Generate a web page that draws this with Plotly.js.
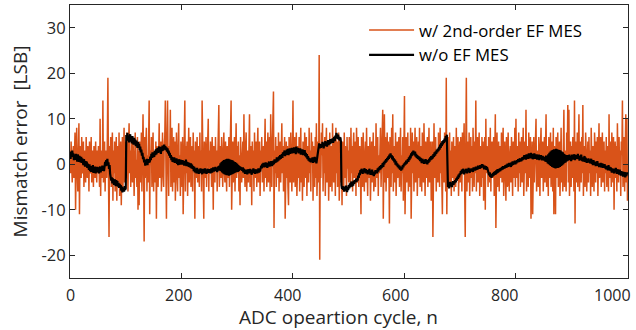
<!DOCTYPE html>
<html>
<head>
<meta charset="utf-8">
<script src="https://cdn.plot.ly/plotly-3.0.1.min.js"></script>
<style>html,body{margin:0;padding:0;background:#fff;}#chart{width:636px;height:330px;}</style>
</head>
<body>
<div id="chart"></div>
<script>
// Series names
const seriesNames = ["w/ 2nd-order EF MES", "w/o EF MES"];
// Axis ticks
const xTicks = [0, 200, 400, 600, 800, 1000];
const yTicks = [-20, -10, 0, 10, 20, 30];
const xTitle = "ADC opeartion cycle, n";
const yTitle = "Mismatch error  [LSB]";

// Mismatch error with 2nd-order EF MES (one value per ADC cycle, n = 0..1000)
const orangeVals = [
3,-2,5,1,-4,2,4,-3,0,7,-10,3,8,-1,-6,2,9,-11,4,1,-3,6,-2,0,5,-5,2,3,-4,6,-1,-3,4,2,-6,5,0,-2,6,-4,1,3,-5,4,2,-3,5,-1,-4,3,
-2,4,1,-5,10,-7,3,0,-3,14,-4,2,5,-6,3,1,-3,6,19,-2,-16,4,-1,6,-5,2,7,-8,3,-2,5,-6,1,6,-8,4,0,-4,7,-7,2,5,-9,3,6,-5,1,8,-4,2,
5,-3,7,2,-6,4,9,-2,3,-5,6,0,-4,5,2,-7,4,7,-3,1,-5,6,-10,3,-9,5,2,-4,7,-6,3,11,0,-17,6,-3,4,8,-6,2,-4,5,14,-11,3,0,6,-5,2,7,
-6,3,1,-4,5,-12,4,2,-5,6,9,-3,1,5,-6,3,7,-2,-5,4,6,14,-4,-12,5,14,0,-7,4,2,12,-5,3,8,-6,1,6,-4,5,-8,3,7,-2,-6,4,9,-3,2,-7,5,
1,-5,6,-11,3,2,14,-6,4,-2,5,-7,3,8,-4,1,6,-5,2,4,-6,7,0,3,-12,5,2,-3,6,-4,4,1,-5,7,-2,3,-6,14,2,-4,-12,5,3,-3,6,-5,1,4,10,-6,
3,-2,5,0,-5,6,2,-10,4,1,-4,6,-1,3,-6,5,2,13,-5,1,4,-3,6,0,-5,3,7,-2,-4,5,1,-6,4,3,-3,6,-5,2,0,14,-10,3,5,-4,2,6,-6,1,9,-3,
4,-2,5,-6,2,-9,6,1,-4,3,5,-3,11,0,-5,4,7,-6,2,3,-4,6,11,-5,2,4,-9,5,-2,3,-6,7,1,-3,5,-5,3,8,-4,2,5,-7,3,0,6,-4,2,4,-6,3,
10,-3,5,-5,2,7,-4,1,6,-6,11,2,-5,4,8,16,-14,3,-2,6,-5,4,1,-3,7,-6,2,5,-4,3,9,-2,4,-6,3,6,-12,2,5,-3,4,-5,-9,6,1,-4,7,2,-6,3,
14,-4,2,6,-5,3,7,-7,1,4,-3,6,-6,2,8,-4,3,-8,5,1,-5,7,2,-3,6,-7,4,1,-4,8,-2,3,-6,7,0,5,-8,4,2,-5,6,-3,9,-7,3,5,-4,24,-21,4,
-3,7,2,9,-6,4,-2,6,-7,3,8,-4,1,5,-8,3,7,-5,2,4,-6,9,0,-4,6,3,-7,8,-2,5,-5,4,7,-8,2,6,-4,3,-9,5,1,-6,7,-3,4,2,-7,6,-1,3,
-4,6,2,-5,8,-2,4,-6,3,7,-3,1,5,-7,8,2,-4,6,-5,3,4,-2,-11,6,1,-5,7,3,-6,2,5,-4,8,-1,-7,4,2,-3,6,-8,3,5,-4,1,7,-6,2,4,-5,9,
-3,4,6,-7,2,-2,5,8,-5,1,4,12,-12,3,11,-4,6,-6,2,7,-3,5,1,-13,6,3,-5,8,-2,11,-6,4,2,-4,7,-7,3,5,-3,1,6,-5,3,8,-6,2,-2,6,-8,4,
15,-11,3,6,-4,2,7,-6,4,1,-5,8,-12,3,7,-2,5,-6,2,8,-4,3,6,-7,1,5,-3,8,-5,2,4,-6,7,0,-4,9,2,-7,5,3,-3,6,-5,2,8,-4,1,5,-8,3,
5,-16,4,9,-3,2,6,-6,3,1,-4,7,2,-5,8,-2,4,-7,-11,5,3,-4,7,1,-6,19,-11,4,6,-5,2,7,-4,3,-7,5,1,-3,6,-6,4,2,-5,8,-3,1,6,-7,3,5,
-4,6,2,-6,7,-2,3,9,-5,-16,4,19,-6,3,5,-4,7,-7,1,6,-3,4,-6,8,2,-5,5,-2,14,-6,3,6,-4,1,7,-7,4,2,-5,6,-3,5,-8,3,6,-10,10,-2,4,1,
-5,6,2,-4,8,-6,3,5,-3,1,6,-7,4,11,-14,3,7,-5,2,5,-6,4,1,-3,7,-4,2,8,-7,3,5,-2,-8,6,1,-5,7,3,-6,2,4,-4,6,0,-7,5,2,-3,8,-5,
10,-3,4,1,-6,7,-2,5,-5,3,6,-4,2,8,-7,3,5,-2,12,-6,4,1,-5,7,-3,2,6,-12,3,5,-11,4,6,-4,2,7,10,-6,3,1,-5,6,2,-7,4,8,-3,1,5,-6,
3,6,-4,2,11,-5,4,1,-7,6,2,-3,7,-5,3,5,-6,8,-11,4,2,-11,6,-3,4,7,-5,1,5,-7,3,8,-4,2,-6,6,12,-5,3,1,-6,7,2,13,-4,12,-7,3,5,-5,
4,-3,6,2,-6,14,-13,5,1,-4,7,-5,3,11,-6,2,5,-4,6,-2,13,-7,4,1,-5,7,3,-6,2,5,-4,6,-2,3,-7,8,1,-5,4,2,-6,7,3,-4,5,-2,6,-7,2,9,
-3,4,6,-5,2,7,-4,1,5,-6,3,-2,6,-5,4,2,-6,11,-3,5,1,-5,7,3,-4,6,-10,2,5,-3,4,-6,9,1,-4,6,-2,3,-7,5,2,14,-5,3,6,-6,4,11,-4,10,
-8
];

// Mismatch error without EF MES (one value per ADC cycle, n = 0..1000)
const blackVals = [
2.8,1.2,2.5,1.6,3.0,1.9,2.4,0.9,2.2,1.5,1.0,2.3,1.4,0.6,2.1,1.7,0.5,1.8,1.2,0.4,1.6,0.3,1.3,0.8,-0.2,1.1,0.2,-0.5,0.7,-0.3,0.6,-0.8,0.1,-0.6,-1.2,0.0,-1.5,-0.4,-1.7,-0.7,-1.4,-0.2,-1.9,-0.8,-1.6,-0.5,-2.0,-1.0,-1.8,-0.6,
-1.6,-0.7,-2.0,-1.1,-0.5,-1.8,-0.9,-1.4,-0.3,-1.2,-0.6,-1.5,-0.2,0.5,-0.4,0.9,0.1,1.2,-0.3,0.4,-1.0,-0.2,-2.1,-2.8,-3.6,-2.9,-4.2,-3.1,-3.8,-4.5,-3.3,-4.0,-4.8,-3.5,-4.4,-3.7,-4.9,-4.1,-5.2,-4.3,-5.0,-4.6,-5.8,-4.9,-6.2,-5.1,-5.7,-6.0,-4.8,-5.6,
-5.3,6.4,5.2,6.9,5.5,6.1,4.8,5.9,6.6,5.0,5.7,4.6,6.2,5.1,4.3,5.8,4.9,5.4,4.0,5.2,4.4,3.6,4.9,3.8,4.5,3.1,3.9,2.6,3.2,1.9,2.5,1.1,1.6,0.4,1.0,-0.3,0.8,0.1,1.2,-0.2,0.9,0.3,1.1,0.4,1.7,0.9,2.3,1.4,2.6,1.5,
2.4,1.6,2.9,2.0,3.3,2.2,2.8,3.6,2.5,3.1,3.9,2.6,3.4,2.3,3.8,2.9,4.1,3.0,3.6,4.3,3.2,4.0,3.1,3.7,2.8,3.5,2.4,3.0,1.9,2.5,1.4,2.0,0.9,1.6,0.5,1.2,0.7,1.5,0.3,1.0,0.4,1.3,0.1,0.9,-0.2,1.1,0.6,-0.1,1.0,0.2,
0.8,-0.1,0.9,0.2,0.6,-0.3,0.7,0.1,1.0,-0.4,0.5,-0.2,0.4,-0.6,0.3,0.0,-0.7,0.2,-0.9,-0.1,-1.0,-0.4,-1.5,-0.6,-1.8,-0.9,-1.3,-2.0,-0.8,-1.6,-1.1,-2.1,-1.2,-1.7,-0.9,-1.9,-1.4,-2.2,-1.0,-1.8,-1.3,-2.0,-0.9,-1.6,-1.2,-2.1,-1.5,-1.0,-1.9,-1.3,
-1.7,-1.1,-2.0,-1.4,-0.9,-1.8,-1.2,-0.7,-1.6,-1.0,-1.5,-0.6,-1.3,-0.8,-1.7,-1.1,-0.5,-1.4,-0.3,-1.2,0.2,-1.5,0.5,-1.8,0.7,-2.0,0.9,-2.2,1.0,-2.3,1.1,-2.4,1.2,-2.4,1.2,-2.5,1.1,-2.4,1.0,-2.3,0.9,-2.2,0.8,-2.1,0.6,-1.9,0.5,-1.8,0.3,-1.6,
0.1,-1.7,-0.2,-1.5,-0.4,-1.3,-0.6,-1.1,-0.9,-1.4,-0.7,-1.8,-1.0,-1.6,-2.1,-1.2,-1.9,-1.4,-2.2,-1.1,-1.7,-1.3,-2.0,-1.0,-1.8,-1.5,-2.3,-1.2,-1.6,-0.9,-1.9,-1.4,-2.1,-1.1,-1.7,-1.3,-2.0,-1.5,-0.9,-1.8,-1.2,-1.6,-0.8,-0.3,-0.9,0.1,-0.5,0.3,-0.7,0.2,
-0.4,0.4,-0.6,0.1,-0.8,0.3,-0.3,0.6,-0.5,0.2,-0.1,0.7,-0.4,0.5,-0.2,0.8,0.0,1.1,0.3,0.9,0.4,1.5,0.6,1.3,0.8,1.7,1.0,2.0,1.2,1.6,2.2,1.4,2.6,1.9,2.3,3.0,1.8,2.7,2.1,3.2,2.4,3.4,2.0,2.9,3.5,2.3,3.1,2.6,3.6,2.4,
3.3,2.5,3.7,2.8,3.4,2.2,3.9,2.7,3.1,3.6,2.4,3.2,2.8,3.5,2.1,3.0,2.6,3.3,2.0,2.9,2.3,3.1,1.8,2.5,1.5,2.2,1.1,1.8,0.8,1.4,0.6,1.3,0.4,1.1,0.7,1.5,0.3,1.2,0.5,1.6,0.8,1.4,0.2,1.0,1.9,3.2,3.9,4.6,3.5,4.3,
3.6,4.4,3.8,4.9,4.1,3.5,4.7,4.0,5.1,4.3,4.8,3.9,4.6,5.3,4.2,5.0,4.4,5.5,4.6,5.2,4.9,5.7,4.7,5.4,6.0,5.1,6.3,5.8,6.9,6.2,5.6,6.5,5.4,6.0,5.2,5.9,5.0,-4.6,-5.4,-4.8,-5.6,-4.9,-6.0,-5.2,-5.8,-4.7,-5.5,-6.1,-5.0,-5.7,
-4.6,-5.3,-4.2,-5.0,-4.4,-3.8,-4.9,-4.1,-4.7,-3.6,-4.3,-3.5,-4.0,-3.2,-3.9,-3.1,-3.6,-2.5,-3.0,-1.9,-2.4,-1.3,-1.8,-1.0,-1.6,-2.1,-1.2,-1.7,-0.9,-1.5,-2.0,-1.1,-1.8,-1.3,-2.2,-1.4,-1.9,-1.0,-1.7,-2.3,-1.5,-2.0,-1.2,-2.4,-1.8,-2.6,-1.6,-2.2,-1.3,-1.9,
-1.4,-2.0,-0.9,-1.6,-0.7,-1.3,-0.4,-1.1,-0.2,-0.8,-0.3,0.2,-0.6,0.5,0.0,0.8,0.3,1.1,0.6,1.4,0.9,1.7,1.2,2.1,1.5,2.4,1.6,2.0,1.1,1.7,0.8,1.3,0.4,1.0,-0.1,0.6,-0.3,0.2,-0.6,-0.1,-0.9,-0.3,-1.2,-0.5,-1.4,-0.8,-1.1,-0.2,-0.7,0.1,
-0.3,0.4,-0.1,0.8,0.2,0.6,1.1,0.5,1.5,0.9,1.9,1.3,2.4,1.8,2.7,2.2,3.0,2.4,2.0,2.8,1.7,2.3,1.4,2.0,1.2,1.8,1.0,1.6,0.7,1.4,0.9,0.3,1.2,0.5,1.0,0.1,0.8,0.4,1.1,0.2,0.6,0.0,0.9,0.3,1.2,0.6,1.5,0.9,1.8,1.1,
1.9,1.3,2.2,1.6,2.6,1.9,2.8,2.3,3.2,2.6,3.4,2.9,3.8,3.2,4.3,3.6,4.7,4.0,5.1,4.4,5.3,4.7,5.6,5.0,6.2,5.4,6.5,-4.2,-5.0,-4.4,-5.3,-4.6,-3.9,-4.8,-4.1,-5.0,-4.3,-3.7,-4.5,-3.9,-4.2,-3.5,-4.0,-3.1,-3.6,-2.7,-3.2,-2.3,-2.9,-2.0,
-2.4,-1.5,-2.1,-1.2,-1.9,-1.0,-1.7,-2.2,-1.3,-1.8,-1.0,-1.6,-2.0,-1.1,-1.5,-0.8,-1.4,-1.9,-1.0,-1.6,-0.9,-1.5,-1.1,-1.7,-0.7,-1.3,-0.8,-1.4,-0.5,-1.1,-0.6,-1.2,-0.3,-0.9,-0.4,-1.0,-0.2,-0.8,-0.5,0.0,-0.7,-0.1,-0.6,-1.1,-0.3,-0.9,-0.4,-1.2,-0.6,-1.0,
-1.5,-1.9,-2.4,-1.8,-2.8,-2.2,-3.0,-2.1,-2.7,-1.9,-2.5,-1.7,-2.3,-1.5,-2.2,-1.3,-2.0,-1.1,-1.8,-1.2,-1.6,-0.9,-1.5,-0.8,-1.3,-0.6,-1.2,-0.4,-1.0,-0.5,-0.9,-0.2,-0.8,-0.1,-0.7,0.1,-0.5,-0.2,0.3,-0.4,0.0,-0.6,0.4,-0.3,0.6,-0.1,0.5,0.1,0.8,0.0,
0.7,0.2,0.9,0.4,1.1,0.5,0.8,1.3,0.6,1.2,0.7,1.5,0.9,1.6,1.1,2.0,1.3,1.8,1.0,2.2,1.4,2.1,1.2,2.4,1.6,2.0,1.3,2.5,1.5,2.3,1.1,2.0,1.6,2.4,1.2,1.9,1.4,2.2,1.0,1.8,1.3,2.1,0.9,1.7,1.2,2.0,1.5,0.9,1.8,1.1,
1.6,0.8,1.4,0.6,1.9,0.5,1.7,0.2,2.2,0.0,2.5,-0.2,2.8,-0.4,3.0,-0.6,3.1,-0.7,3.3,-0.8,3.3,-0.9,3.4,-0.8,3.3,-0.8,3.2,-0.7,3.1,-0.6,3.0,-0.4,2.8,-0.2,2.6,0.0,2.3,0.3,2.1,0.4,1.9,0.6,2.0,0.8,1.7,0.9,2.1,1.0,1.8,0.7,
1.5,2.1,1.0,1.8,1.3,2.2,0.9,1.7,1.2,2.0,1.4,2.3,1.1,1.9,0.8,1.6,1.0,2.1,1.3,0.7,1.5,0.6,1.2,1.8,0.5,1.4,0.9,0.3,1.1,0.6,1.3,0.4,1.0,0.2,0.8,1.2,0.1,0.7,-0.2,0.9,0.3,-0.1,0.6,-0.4,0.4,0.0,0.7,-0.3,0.2,-0.6,
0.1,-0.5,0.3,-0.7,-0.2,0.2,-0.8,-0.1,-0.6,0.0,-0.9,-0.3,-1.1,-0.4,-0.8,-1.3,-0.2,-1.0,-0.6,-1.4,-0.7,-1.2,-1.8,-0.9,-1.5,-1.0,-2.0,-1.3,-1.7,-0.8,-1.6,-2.1,-1.1,-1.9,-1.4,-2.3,-1.2,-1.8,-2.5,-1.5,-2.2,-1.6,-2.7,-1.9,-2.4,-1.7,-2.9,-2.0,-2.6,-1.8,
-2.3
];

const cyclesO = orangeVals.map((_, i) => i);
const cyclesB = blackVals.map((_, i) => i);

const FONT = "Open Sans, Noto Sans, sans-serif";
const AX = "#262626";

const traces = [
  {x: cyclesO, y: orangeVals, type: "scatter", mode: "lines", name: seriesNames[0],
   line: {color: "#D95319", width: 1.5}},
  {x: cyclesB, y: blackVals, type: "scatter", mode: "lines", name: seriesNames[1],
   line: {color: "#000000", width: 2.2}}
];

// x tick labels drawn as annotations so the last one stays inside the page
const annotations = xTicks.map(v => ({
  x: v, xref: "x", y: 0, yref: "paper", yanchor: "top", xanchor: "center",
  yshift: -4, xshift: -v * 0.0145, showarrow: false, text: String(v),
  font: {family: FONT, size: 16, color: AX}
}));
annotations.push({
  x: 0.481, xref: "paper", y: 0, yref: "paper", yanchor: "top", xanchor: "center",
  yshift: -24, showarrow: false, text: xTitle,
  font: {family: FONT, size: 19, color: AX}
});

const layout = {
  width: 636, height: 330,
  margin: {l: 70, r: 8, t: 5, b: 52, pad: 0},
  paper_bgcolor: "#fff", plot_bgcolor: "#fff",
  font: {family: FONT, color: AX, size: 16},
  showlegend: true,
  legend: {x: 0.527, y: 0.972, xanchor: "left", yanchor: "top", bgcolor: "rgba(0,0,0,0)",
           borderwidth: 0, itemwidth: 45, font: {family: FONT, size: 16.8, color: "#000"}, tracegroupgap: 0},
  annotations: annotations,
  xaxis: {range: [0, 1001], tickvals: xTicks, showticklabels: false,
          ticks: "inside", ticklen: 5, tickcolor: AX, tickwidth: 1,
          showline: true, linecolor: AX, linewidth: 1, mirror: "ticks",
          showgrid: false, zeroline: false},
  yaxis: {range: [-25, 35], tickvals: yTicks, ticktext: yTicks.map(String),
          ticks: "inside", ticklen: 5, tickcolor: AX, tickwidth: 1,
          showline: true, linecolor: AX, linewidth: 1, mirror: "ticks",
          showgrid: false, zeroline: false,
          tickfont: {family: FONT, size: 16.5, color: AX},
          title: {text: yTitle, font: {family: FONT, size: 19, color: AX}, standoff: 8}}
};

Plotly.newPlot("chart", traces, layout, {staticPlot: true, displayModeBar: false});
</script>
</body>
</html>
